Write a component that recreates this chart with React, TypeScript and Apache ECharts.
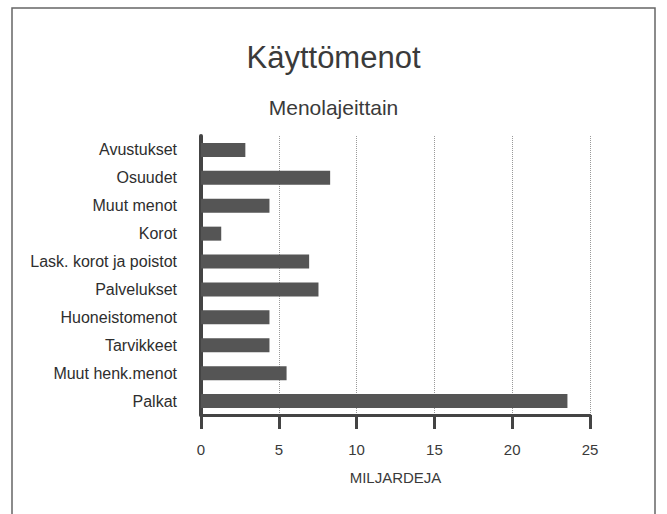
import React, { useEffect, useRef } from "react";
import * as echarts from "echarts";

const categories = [
  "Avustukset",
  "Osuudet",
  "Muut menot",
  "Korot",
  "Lask. korot ja poistot",
  "Palvelukset",
  "Huoneistomenot",
  "Tarvikkeet",
  "Muut henk.menot",
  "Palkat",
];
const values = [2.85, 8.3, 4.4, 1.3, 6.95, 7.55, 4.4, 4.4, 5.5, 23.55];
const xTicks = [0, 5, 10, 15, 20, 25];

const title = "Käyttömenot";
const subtitle = "Menolajeittain";
const xName = "MILJARDEJA";

export default function App() {
  const ref = useRef<HTMLDivElement>(null);
  useEffect(() => {
    document.body.style.margin = "0";
    const chart = echarts.init(ref.current!, undefined, { renderer: "svg" });
    const font = "Liberation Sans, Arial, sans-serif";
    chart.setOption({
      animation: false,
      backgroundColor: "#ffffff",
      textStyle: { fontFamily: font },
      title: [
        {
          text: title,
          left: "center",
          top: 37,
          textStyle: { fontSize: 31, fontWeight: "normal", color: "#3a3a3a", fontFamily: font },
        },
        {
          text: subtitle,
          left: "center",
          top: 92,
          textStyle: { fontSize: 21, fontWeight: "normal", color: "#3a3a3a", fontFamily: font },
        },
      ],
      graphic: [
        {
          type: "rect",
          shape: { x: 12, y: 8, width: 643, height: 530 },
          style: { fill: "none", stroke: "#666", lineWidth: 1.5 },
          silent: true,
        },
      ],
      grid: { left: 201, right: 77, top: 136, bottom: 99, containLabel: false },
      xAxis: {
        type: "value",
        min: xTicks[0],
        max: xTicks[xTicks.length - 1],
        interval: 5,
        name: xName,
        nameLocation: "middle",
        nameGap: 55,
        nameTextStyle: { fontSize: 15, color: "#3a3a3a", fontFamily: font },
        axisLine: { show: true, lineStyle: { color: "#444", width: 3 } },
        axisTick: { show: true, length: 14, lineStyle: { color: "#444", width: 3 } },
        axisLabel: { fontSize: 15, color: "#3a3a3a", margin: 27, fontFamily: font },
        splitLine: { show: true, lineStyle: { color: "#999", type: "dotted", width: 1 } },
      },
      yAxis: {
        type: "category",
        data: categories,
        inverse: true,
        axisLine: { show: true, lineStyle: { color: "#444", width: 4 } },
        axisTick: { show: false },
        axisLabel: { fontSize: 16, color: "#2e2e2e", margin: 24, fontFamily: font },
        splitLine: { show: false },
      },
      series: [
        {
          type: "bar",
          data: values,
          barWidth: 14,
          itemStyle: { color: "#555555" },
        },
      ],
    });
    return () => chart.dispose();
  }, []);
  return <div ref={ref} style={{ width: 667, height: 514 }} />;
}
